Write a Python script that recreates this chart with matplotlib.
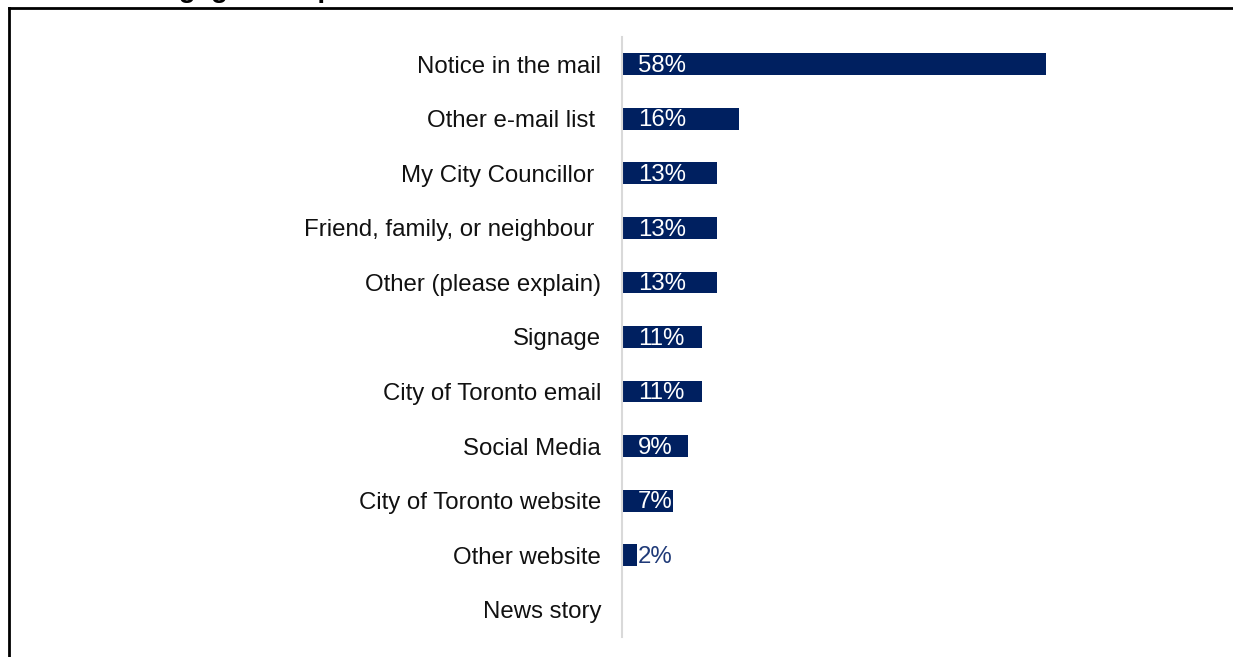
import matplotlib.pyplot as plt
from matplotlib.lines import Line2D

plt.rcParams['font.family'] = ['Liberation Sans', 'DejaVu Sans']

# ------------------------------------------------------------
# data
# ------------------------------------------------------------
categories = [
    "Notice in the mail",
    "Other e-mail list ",
    "My City Councillor ",
    "Friend, family, or neighbour ",
    "Other (please explain)",
    "Signage",
    "City of Toronto email",
    "Social Media",
    "City of Toronto website",
    "Other website",
    "News story",
]
values = [58, 16, 13, 13, 13, 11, 11, 9, 7, 2, 0]
value_labels = ["58%", "16%", "13%", "13%", "13%", "11%", "11%", "9%", "7%", "2%", ""]

BAR = "#002060"
TEXT = "#111111"

W, H = 1233, 657
fig = plt.figure(figsize=(W / 100, H / 100), dpi=100)

# axes placed in pixel terms: left 622, top 37, bottom 637
ax = fig.add_axes([622 / W, 1 - 637 / H, (1200 - 622) / W, (637 - 37) / H])

y = list(range(len(categories)))
ax.barh(y, values, height=0.4, color=BAR)
ax.set_ylim(len(categories) - 0.5, -0.5)
ax.set_xlim(0, 79)

for i, (v, lab) in enumerate(zip(values, value_labels)):
    if not lab:
        continue
    col = "white" if v > 5 else "#1f3a78"
    ax.text(2.2, i + 0.03, lab, va="center", ha="left", fontsize=17.3, color=col)

ax.set_yticks(y)
ax.set_yticklabels(categories, fontsize=17.3, color=TEXT)
ax.tick_params(axis="y", length=0, pad=15)
ax.set_xticks([])
for s in ["top", "right", "bottom"]:
    ax.spines[s].set_visible(False)
ax.spines["left"].set_color("#d9d9d9")
ax.spines["left"].set_linewidth(1.5)

# title sits above the page edge, only its descenders show
fig.text(10 / W, 1 + 3 / H, "Source of engagement process", fontsize=20, fontweight="bold",
         va="baseline", ha="left", color="black")
fig.add_artist(Line2D([9 / W, 1], [1 - 8 / H, 1 - 8 / H], color="black", lw=2))
fig.add_artist(Line2D([9 / W, 9 / W], [0, 1 - 8 / H], color="black", lw=2))

fig.savefig("out.png", dpi=100)
